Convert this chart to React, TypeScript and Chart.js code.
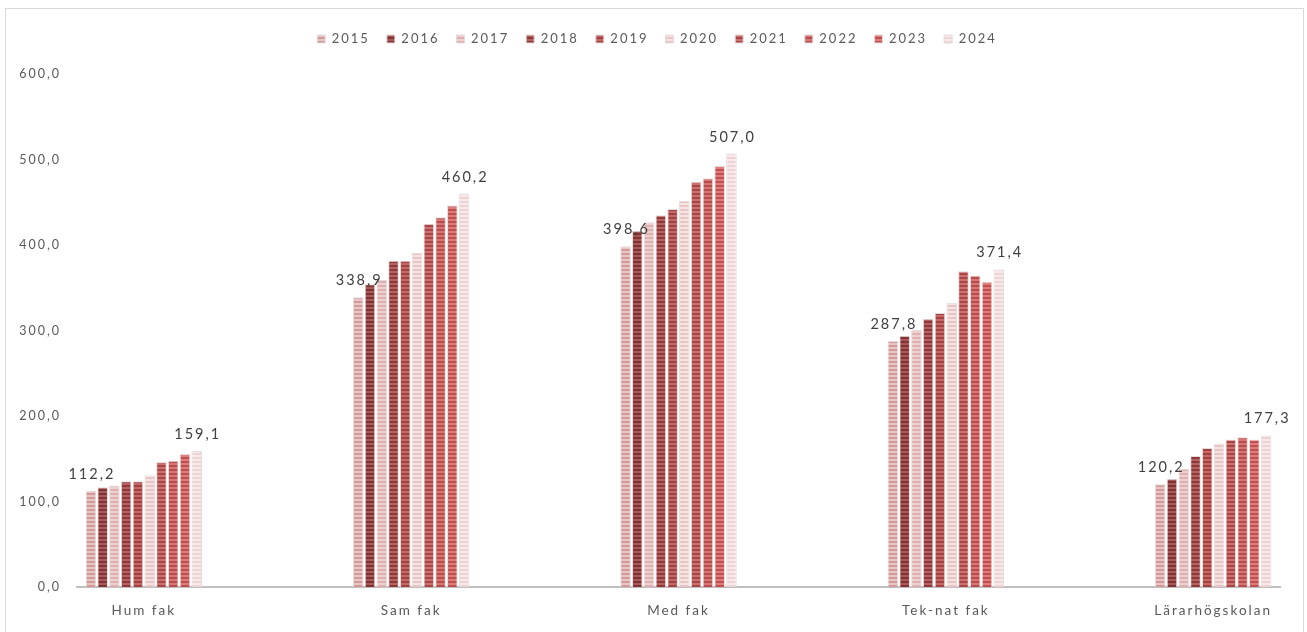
import React, { useEffect, useRef } from 'react';
import { Chart, registerables } from 'chart.js';

Chart.register(...registerables);

const categories = ['Hum fak', 'Sam fak', 'Med fak', 'Tek-nat fak', 'Lärarhögskolan'];
const years = ['2015', '2016', '2017', '2018', '2019', '2020', '2021', '2022', '2023', '2024'];

const v2015 = [112.2, 338.9, 398.6, 287.8, 120.2];
const v2016 = [116.7, 354.1, 416.7, 293.8, 126.6];
const v2017 = [118.7, 359.2, 426.6, 300.8, 138.2];
const v2018 = [123.8, 381.5, 434.7, 313.8, 153.1];
const v2019 = [123.8, 381.5, 442.2, 320.4, 162.6];
const v2020 = [130.8, 390.9, 451.6, 332.6, 167.7];
const v2021 = [146.1, 425.0, 473.9, 369.3, 172.4];
const v2022 = [147.7, 432.4, 478.2, 364.3, 175.1];
const v2023 = [155.5, 446.2, 492.3, 356.9, 172.4];
const v2024 = [159.1, 460.2, 507.0, 371.4, 177.3];

const seriesValues = [v2015, v2016, v2017, v2018, v2019, v2020, v2021, v2022, v2023, v2024];

// stripe colours: [dark row, light row]
const stripeColors: [string, string][] = [
  ['#d49a9a', '#e9c6c6'],
  ['#823232', '#a85a5a'],
  ['#dfb0b0', '#efd0d0'],
  ['#8f3838', '#b66262'],
  ['#a34040', '#c56868'],
  ['#e8c4c4', '#f5e2e2'],
  ['#ab4646', '#cd7070'],
  ['#b94c4c', '#d87575'],
  ['#c24f4f', '#e07c7c'],
  ['#edd3d3', '#f8eaea'],
];

const labelledSeries = [0, 9];

const yTicksMin = 0;
const yTicksMax = 600;
const yTickStep = 100;

const FONT = 'Lato, "Noto Sans", sans-serif';
const LETTER_SPACING = '2px';

function fmt(v: number): string {
  return v.toFixed(1).replace('.', ',');
}

function makePattern(dark: string, light: string): CanvasPattern | string {
  const c = document.createElement('canvas');
  c.width = 4;
  c.height = 4;
  const g = c.getContext('2d');
  if (!g) return dark;
  g.fillStyle = light;
  g.fillRect(0, 0, 4, 4);
  g.fillStyle = dark;
  g.fillRect(0, 0, 4, 2);
  const p = g.createPattern(c, 'repeat');
  return p || dark;
}

const spacingPlugin = {
  id: 'letterSpacing',
  beforeUpdate(chart: any) {
    chart.ctx.letterSpacing = LETTER_SPACING;
  },
  beforeLayout(chart: any) {
    chart.ctx.letterSpacing = LETTER_SPACING;
    const lg = chart.legend;
    if (lg && !lg._patchedFit) {
      const orig = lg.fit.bind(lg);
      lg.fit = function () {
        orig();
        this.height = 58.5;
      };
      lg._patchedFit = true;
    }
  },
  afterLayout(chart: any) {
    const lg = chart.legend;
    if (lg) {
      lg.left += 14;
      lg.right += 14;
    }
  },
  beforeDraw(chart: any) {
    chart.ctx.letterSpacing = LETTER_SPACING;
  },
};

const dataLabelPlugin = {
  id: 'dataLabels',
  afterDatasetsDraw(chart: any) {
    const ctx = chart.ctx;
    ctx.save();
    ctx.letterSpacing = LETTER_SPACING;
    ctx.font = `14.5px ${FONT}`;
    ctx.fillStyle = '#404040';
    ctx.textAlign = 'center';
    ctx.textBaseline = 'alphabetic';
    labelledSeries.forEach((di) => {
      const meta = chart.getDatasetMeta(di);
      meta.data.forEach((el: any, i: number) => {
        const v = seriesValues[di][i];
        ctx.fillText(fmt(v), el.x + 1, el.y - 12);
      });
    });
    ctx.restore();
  },
};

export default function App() {
  const ref = useRef<HTMLCanvasElement | null>(null);

  useEffect(() => {
    if (!ref.current) return;
    const datasets = years.map((yr, di) => {
      const pat = makePattern(stripeColors[di][0], stripeColors[di][1]);
      return {
        label: yr,
        data: seriesValues[di].map((v, i) => ({ x: i, y: v })),
        backgroundColor: pat as any,
        borderColor: '#e4dcdc',
        borderWidth: 1,
        categoryPercentage: 0.44,
        barPercentage: 0.9,
      };
    });

    const chart = new Chart(ref.current, {
      type: 'bar',
      data: { datasets },
      plugins: [spacingPlugin, dataLabelPlugin],
      options: {
        animation: false,
        responsive: false,
        devicePixelRatio: 1,
        layout: { padding: { top: 6.5, right: 23, bottom: 0, left: 0 } },
        plugins: {
          legend: {
            display: true,
            position: 'top',
            align: 'center',
            labels: {
              boxWidth: 8,
              boxHeight: 8,
              padding: 17,
              color: '#595959',
              font: { family: FONT, size: 13 },
            },
          },
          tooltip: { enabled: false },
          title: { display: false },
        },
        scales: {
          x: {
            type: 'linear',
            offset: false,
            min: -0.25,
            max: 4.25,
            grid: { display: false, drawTicks: false, offset: false },
            border: { display: true, color: '#bfbfbf', width: 2 },
            afterBuildTicks: (s: any) => {
              s.ticks = categories.map((_, i) => ({ value: i }));
            },
            afterFit: (s: any) => {
              s.height = 62;
            },
            ticks: {
              autoSkip: false,
              maxRotation: 0,
              minRotation: 0,
              padding: 16,
              color: '#595959',
              font: { family: FONT, size: 13.5 },
              callback: (v: any) => categories[Math.round(Number(v))] ?? '',
            },
          },
          y: {
            type: 'linear',
            min: yTicksMin,
            max: yTicksMax,
            grid: { display: false, drawTicks: false },
            border: { display: false },
            afterFit: (s: any) => {
              s.width = 71;
            },
            ticks: {
              stepSize: yTickStep,
              padding: 16,
              color: '#595959',
              font: { family: FONT, size: 12.5 },
              callback: (v: any) => fmt(Number(v)),
            },
          },
        },
      } as any,
    });
    return () => chart.destroy();
  }, []);

  return (
    <div
      style={{
        position: 'absolute',
        left: 5,
        top: 8,
        width: 1297,
        height: 640,
        border: '1px solid #d9d9d9',
        background: '#ffffff',
      }}
    >
      <canvas ref={ref} width={1297} height={640} style={{ display: 'block', width: 1297, height: 640 }} />
    </div>
  );
}
